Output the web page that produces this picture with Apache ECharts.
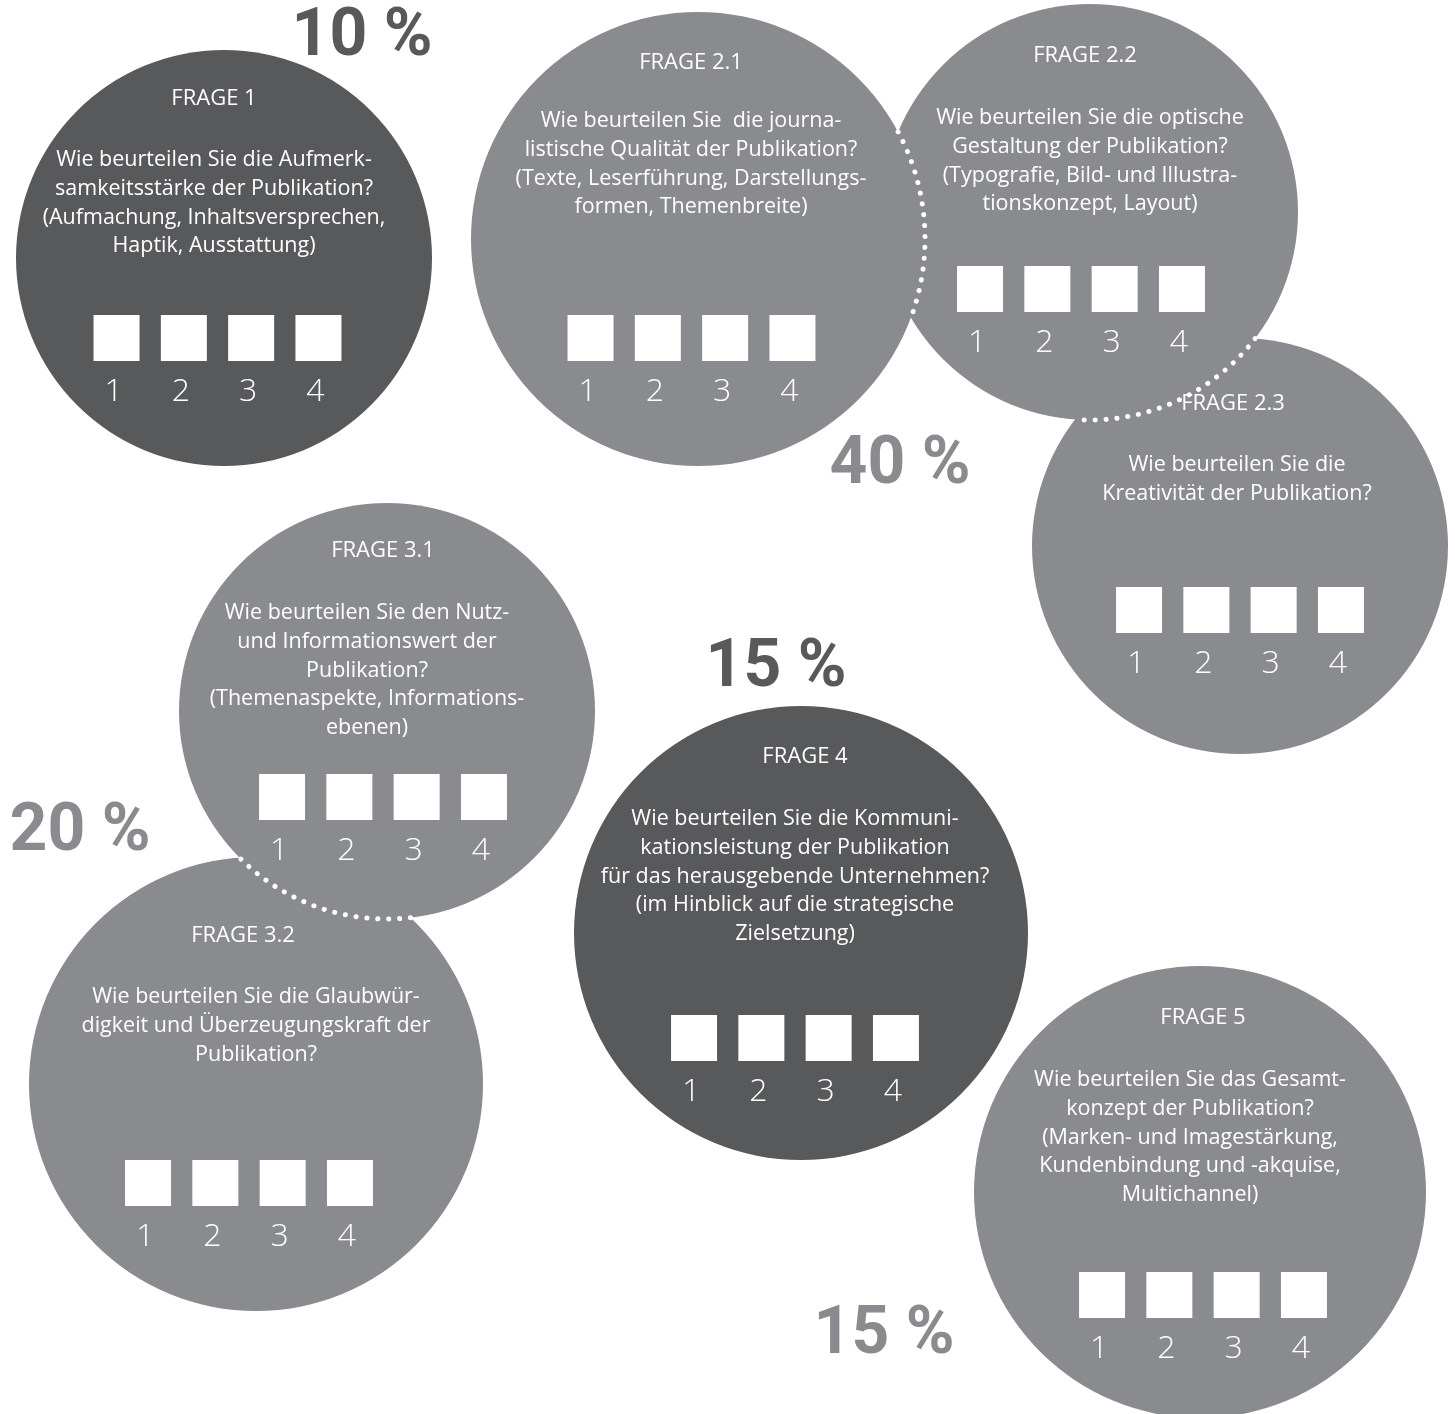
<!DOCTYPE html>
<html><head><meta charset="utf-8">
<script src="https://cdn.jsdelivr.net/npm/echarts@6/dist/echarts.min.js"></script>
<style>html,body{margin:0;padding:0;background:#fff}#c{width:1455px;height:1414px}</style>
</head><body><div id="c"></div>
<script>
// ---------- data ----------
const questionTitles = ['FRAGE 1','FRAGE 2.1','FRAGE 2.2','FRAGE 2.3','FRAGE 3.1','FRAGE 3.2','FRAGE 4','FRAGE 5'];
const questionLines = [
  ['Wie beurteilen Sie die Aufmerk-','samkeitsstärke der Publikation?','(Aufmachung, Inhaltsversprechen,','Haptik, Ausstattung)'],
  ['Wie beurteilen Sie  die journa-','listische Qualität der Publikation?','(Texte, Leserführung, Darstellungs-','formen, Themenbreite)'],
  ['Wie beurteilen Sie die optische','Gestaltung der Publikation?','(Typografie, Bild- und Illustra-','tionskonzept, Layout)'],
  ['Wie beurteilen Sie die','Kreativität der Publikation?'],
  ['Wie beurteilen Sie den Nutz-','und Informationswert der','Publikation?','(Themenaspekte, Informations-','ebenen)'],
  ['Wie beurteilen Sie die Glaubwür-','digkeit und Überzeugungskraft der','Publikation?'],
  ['Wie beurteilen Sie die Kommuni-','kationsleistung der Publikation','für das herausgebende Unternehmen?','(im Hinblick auf die strategische','Zielsetzung)'],
  ['Wie beurteilen Sie das Gesamt-','konzept der Publikation?','(Marken- und Imagestärkung,','Kundenbindung und -akquise,','Multichannel)']
];
const circleX = [224, 698, 1090, 1240, 387, 256, 801, 1200];
const circleY = [258, 239, 212, 546, 711, 1084, 933, 1192];
const circleR = [208, 227, 208, 208, 208, 227, 227, 226];
const circleTone = ['dark','light','light','light','light','light','dark','light'];
const circleLayer = [1, 3, 2, 1, 2, 1, 1, 1];
// [circle whose edge is dotted, circle it lies over]
const overlapPairs = [[1, 2], [2, 3], [4, 5]];

const titleX = [214, 691, 1085, 1233, 383, 243, 805, 1203];
const titleY = [99, 63, 56, 404, 551, 936, 757, 1018];
const textX  = [214, 691, 1090, 1237, 367, 256, 795, 1190];
const bodyY  = [160, 121, 118, 465, 613, 997, 819, 1080];
const boxRowX = [217.5, 691.5, 1081, 1240, 383, 249, 795, 1203];
const boxRowY = [338, 338, 289, 610, 797, 1183, 1038, 1295];
const scaleLabels = ['1','2','3','4'];

const percentLabels = ['10 %','40 %','15 %','20 %','15 %'];
const percentX = [362, 900, 776, 80, 884];
const percentY = [38, 466, 669, 833, 1336];
const percentTone = ['dark','light','dark','light','light'];

// ---------- styles ----------
const TONE = {dark:'#58595b', light:'#8a8b8e'};
const FONT = "'Open Sans', 'Noto Sans', sans-serif";
const BIG_FONT = "'Roboto', 'Open Sans', sans-serif";
const boxGap = 67.3, boxSize = 46, lineGap = 28.7;

const chart = echarts.init(document.getElementById('c'), null, {renderer:'canvas'});

const boxData = [];
circleX.forEach((_, i) => {
  scaleLabels.forEach((lab, k) => {
    boxData.push({value: [boxRowX[i] + (k - 1.5) * boxGap, boxRowY[i]], label: {formatter: lab}});
  });
});

const option = {
  animation: false,
  grid: {left: 0, right: 0, top: 0, bottom: 0},
  xAxis: {type: 'value', min: 0, max: 1455, show: false},
  yAxis: {type: 'value', min: 0, max: 1414, inverse: true, show: false},
  series: [
    {
      type: 'custom', name: 'circles', clip: false, z: 1,
      data: circleX.map((x, i) => [x, circleY[i], circleR[i], i]),
      renderItem(params, api) {
        const i = api.value(3);
        const c = api.coord([api.value(0), api.value(1)]);
        const r = api.size([api.value(2), 0])[0];
        return {type: 'circle', z2: circleLayer[i], shape: {cx: c[0], cy: c[1], r: r},
                style: {fill: TONE[circleTone[i]], stroke: 'none'}};
      }
    },
    {
      type: 'custom', name: 'overlaps', clip: false, z: 2,
      data: overlapPairs,
      renderItem(params, api) {
        const a = api.value(0), b = api.value(1);
        const ca = api.coord([circleX[a], circleY[a]]);
        const cb = api.coord([circleX[b], circleY[b]]);
        const ra = api.size([circleR[a], 0])[0];
        const rb = api.size([circleR[b], 0])[0];
        const dx = cb[0] - ca[0], dy = cb[1] - ca[1];
        const d = Math.sqrt(dx * dx + dy * dy);
        const th = Math.atan2(dy, dx);
        const al = Math.acos((d * d + ra * ra - rb * rb) / (2 * d * ra));
        return {type: 'arc', shape: {cx: ca[0], cy: ca[1], r: ra, startAngle: th - al, endAngle: th + al, clockwise: true},
                style: {fill: 'none', stroke: '#fff', lineWidth: 5, lineCap: 'round', lineDash: [0.1, 10.8]}};
      }
    },
    {
      type: 'custom', name: 'questions', clip: false, z: 3,
      data: circleX.map((x, i) => [x, circleY[i], i]),
      renderItem(params, api) {
        const i = api.value(2);
        const children = [];
        const t = api.coord([titleX[i], titleY[i]]);
        children.push({type: 'text', x: t[0], y: t[1],
          style: {text: questionTitles[i], fill: '#fff', fontSize: 22, fontFamily: FONT, fontWeight: 400, align: 'center', verticalAlign: 'middle'}});
        questionLines[i].forEach((line, j) => {
          const p = api.coord([textX[i], bodyY[i] + j * lineGap]);
          children.push({type: 'text', x: p[0], y: p[1],
            style: {text: line, fill: '#fff', fontSize: 21.5, fontFamily: FONT, fontWeight: 400, align: 'center', verticalAlign: 'middle'}});
        });
        return {type: 'group', children: children};
      }
    },
    {
      type: 'scatter', name: 'boxes', z: 3,
      symbol: 'rect', symbolSize: boxSize,
      itemStyle: {color: '#fff', opacity: 1},
      label: {show: true, position: 'inside', offset: [-3, 54], color: '#fff', fontSize: 32, fontFamily: FONT, fontWeight: 300},
      data: boxData,
      emphasis: {disabled: true}
    },
    {
      type: 'custom', name: 'percent', clip: false, z: 3,
      data: percentX.map((x, i) => [x, percentY[i], i]),
      renderItem(params, api) {
        const i = api.value(2);
        const p = api.coord([api.value(0), api.value(1)]);
        return {type: 'text', x: p[0], y: p[1],
          style: {text: percentLabels[i], fill: TONE[percentTone[i]], fontSize: 66, fontFamily: BIG_FONT, fontWeight: 700, align: 'center', verticalAlign: 'middle'}};
      }
    }
  ]
};
chart.setOption(option);
</script>
</body></html>
